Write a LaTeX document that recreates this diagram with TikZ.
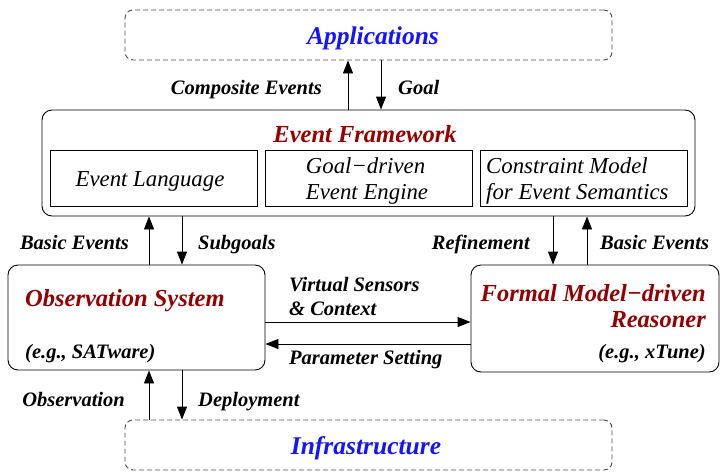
\documentclass[tikz,border=0pt]{standalone}
\usepackage{fontspec}
\setmainfont{Liberation Serif}
\usetikzlibrary{arrows.meta}
\definecolor{titlered}{RGB}{150,0,0}
\definecolor{titleblue}{RGB}{20,20,255}
\tikzset{
  box/.style={draw, line width=0.9pt, rounded corners=10pt, inner sep=0pt},
  dashbox/.style={draw=black!70, dash pattern=on 5pt off 3pt, line width=0.9pt, rounded corners=8pt, inner sep=0pt},
  part/.style={draw, line width=0.9pt, inner sep=0pt, minimum width=207pt, minimum height=56pt},
  arr/.style={line width=0.9pt, -{Triangle[length=13pt,width=10pt]}},
  lbl/.style={font=\fontsize{20.5}{24}\selectfont\bfseries\itshape, inner sep=0pt},
  head/.style={font=\fontsize{24.5}{26.5}\selectfont\bfseries\itshape, inner sep=0pt},
  bighead/.style={font=\fontsize{25.5}{27}\selectfont\bfseries\itshape, inner sep=0pt, text=titleblue},
  parttext/.style={font=\fontsize{22.8}{26}\selectfont\itshape, inner sep=0pt, align=left}
}
\begin{document}
\begin{tikzpicture}[x=1pt, y=-1pt]
\useasboundingbox (0,0) rectangle (720,472);

% outer blocks
\node[dashbox, minimum width=487pt, minimum height=50pt] (apps) at (368.5,35) {};
\node[box, minimum width=653pt, minimum height=106pt] (fw) at (368.5,163) {};
\node[box, minimum width=257pt, minimum height=105pt] (obs) at (136.5,317.5) {};
\node[box, minimum width=248pt, minimum height=107pt] (rsn) at (595,318.5) {};
\node[dashbox, minimum width=487pt, minimum height=50pt] (infra) at (368.5,445) {};

% parts of the event framework
\node[part] (lang) at (153.5,178) {};
\node[part] (engine) at (368.5,178) {};
\node[part] (model) at (583.5,178) {};

% titles
\node[bighead] (appsT) at (373,38) {Applications};
\node[bighead] (infraT) at (366,448) {Infrastructure};
\node[head, text=titlered] (fwT) at (365,134) {Event Framework};
\node[head, text=titlered, anchor=west] (obsT) at (25,301) {Observation System};
\node[head, text=titlered, anchor=east, align=right] (rsnT) at (706,306) {Formal Model−driven\\Reasoner};
\node[lbl, anchor=base west] (obsEx) at (25,358) {(e.g., SATware)};
\node[lbl, anchor=base east] (rsnEx) at (706,358) {(e.g., xTune)};

% part texts
\node[parttext] (langT) at (150,181) {Event Language};
\node[parttext] (engineT) at (367,181) {Goal−driven\\Event Engine};
\node[parttext, anchor=west] (modelT) at (486,181) {Constraint Model\\for Event Semantics};

% x positions of the vertical connectors
\coordinate (xa) at (348,0);
\coordinate (xb) at (381,0);
\coordinate (xc) at (149,0);
\coordinate (xd) at (182,0);
\coordinate (xe) at (553,0);
\coordinate (xf) at (587,0);
% y positions of the horizontal connectors
\coordinate (ya) at (0,322);
\coordinate (yb) at (0,344);

% connectors
\draw[arr] (fw.north -| xa) -- (apps.south -| xa);
\draw[arr] (apps.south -| xb) -- (fw.north -| xb);
\draw[arr] (obs.north -| xc) -- (fw.south -| xc);
\draw[arr] (fw.south -| xd) -- (obs.north -| xd);
\draw[arr] (fw.south -| xe) -- (rsn.north -| xe);
\draw[arr] (rsn.north -| xf) -- (fw.south -| xf);
\draw[arr] (obs.east |- ya) -- (rsn.west |- ya);
\draw[arr] (rsn.west |- yb) -- (obs.east |- yb);
\draw[arr] (infra.north -| xc) -- (obs.south -| xc);
\draw[arr] (obs.south -| xd) -- (infra.north -| xd);

% connector labels
\node[lbl, anchor=base east] (l1) at (322,94) {Composite Events};
\node[lbl, anchor=base west] (l2) at (398,94) {Goal};
\node[lbl, anchor=base east] (l3) at (129,249) {Basic Events};
\node[lbl, anchor=base west] (l4) at (198,249) {Subgoals};
\node[lbl, anchor=base east] (l5) at (530,249) {Refinement};
\node[lbl, anchor=base west] (l6) at (600,249) {Basic Events};
\node[lbl, anchor=west, align=left] (l7) at (289,296) {Virtual Sensors\\\& Context};
\node[lbl, anchor=base west] (l8) at (289,364) {Parameter Setting};
\node[lbl, anchor=base east] (l9) at (125,406) {Observation};
\node[lbl, anchor=base west] (l10) at (198,406) {Deployment};
\end{tikzpicture}
\end{document}
